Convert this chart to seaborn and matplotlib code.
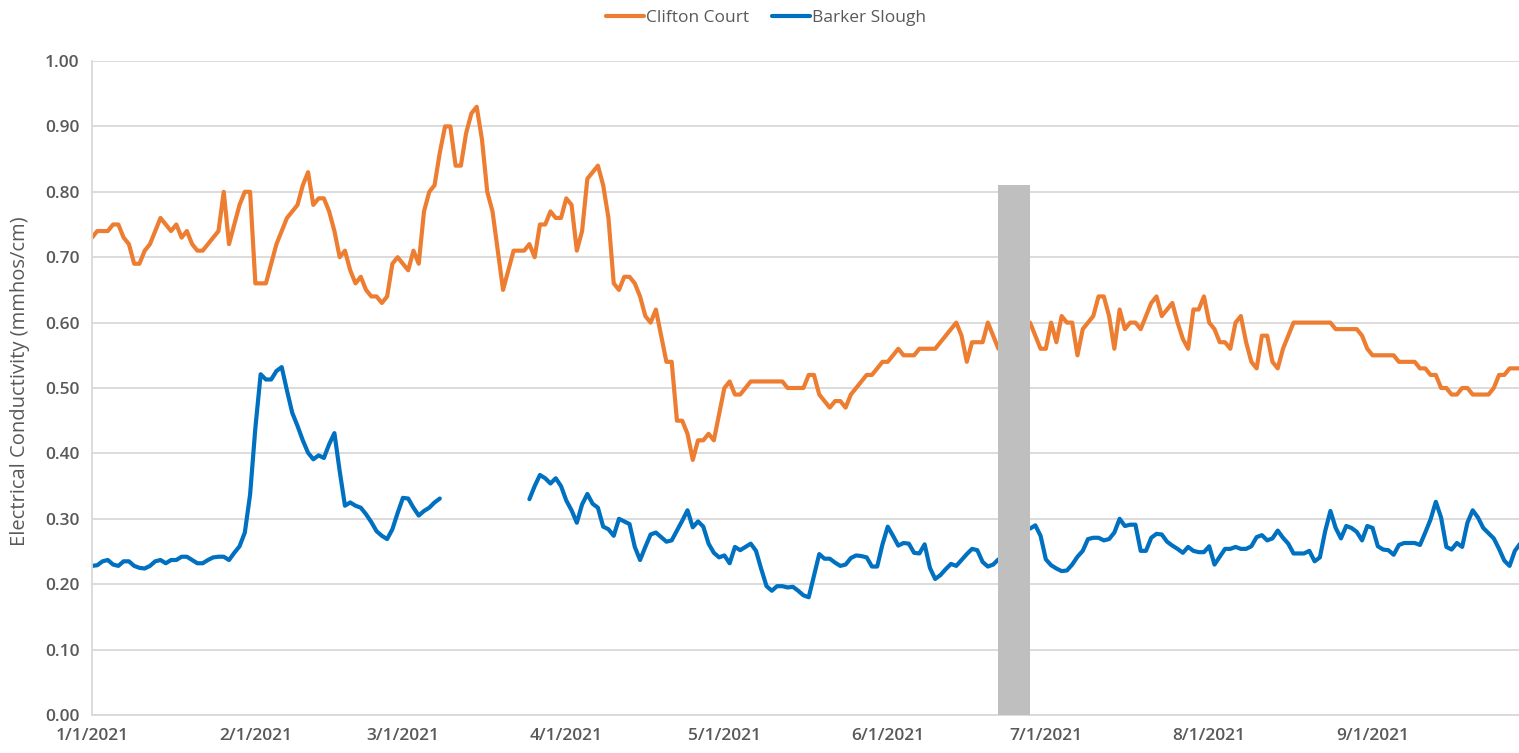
import numpy as np
import pandas as pd
import matplotlib
matplotlib.use("Agg")
import matplotlib.pyplot as plt
from matplotlib.lines import Line2D
import seaborn as sns

nan = np.nan

# daily EC readings starting 1/1/2021 (mmhos/cm); nan = no data
START = "2021-01-01"

clifton_court = [
    0.73, 0.74, 0.74, 0.74, 0.75, 0.75, 0.73, 0.72, 0.69, 0.69,
    0.71, 0.72, 0.74, 0.76, 0.75, 0.74, 0.75, 0.73, 0.74, 0.72,
    0.71, 0.71, 0.72, 0.73, 0.74, 0.80, 0.72, 0.75, 0.78, 0.80,
    0.80, 0.66, 0.66, 0.66, 0.69, 0.72, 0.74, 0.76, 0.77, 0.78,
    0.81, 0.83, 0.78, 0.79, 0.79, 0.77, 0.74, 0.70, 0.71, 0.68,
    0.66, 0.67, 0.65, 0.64, 0.64, 0.63, 0.64, 0.69, 0.70, 0.69,
    0.68, 0.71, 0.69, 0.77, 0.80, 0.81, 0.86, 0.90, 0.90, 0.84,
    0.84, 0.89, 0.92, 0.93, 0.88, 0.80, 0.77, 0.71, 0.65, 0.68,
    0.71, 0.71, 0.71, 0.72, 0.70, 0.75, 0.75, 0.77, 0.76, 0.76,
    0.79, 0.78, 0.71, 0.74, 0.82, 0.83, 0.84, 0.81, 0.76, 0.66,
    0.65, 0.67, 0.67, 0.66, 0.64, 0.61, 0.60, 0.62, 0.58, 0.54,
    0.54, 0.45, 0.45, 0.43, 0.39, 0.42, 0.42, 0.43, 0.42, 0.46,
    0.50, 0.51, 0.49, 0.49, 0.50, 0.51, 0.51, 0.51, 0.51, 0.51,
    0.51, 0.51, 0.50, 0.50, 0.50, 0.50, 0.52, 0.52, 0.49, 0.48,
    0.47, 0.48, 0.48, 0.47, 0.49, 0.50, 0.51, 0.52, 0.52, 0.53,
    0.54, 0.54, 0.55, 0.56, 0.55, 0.55, 0.55, 0.56, 0.56, 0.56,
    0.56, 0.57, 0.58, 0.59, 0.60, 0.58, 0.54, 0.57, 0.57, 0.57,
    0.60, 0.58, 0.56, nan, nan, nan, nan, nan, 0.60, 0.58,
    0.56, 0.56, 0.60, 0.57, 0.61, 0.60, 0.60, 0.55, 0.59, 0.60,
    0.61, 0.64, 0.64, 0.61, 0.56, 0.62, 0.59, 0.60, 0.60, 0.59,
    0.61, 0.63, 0.64, 0.61, 0.62, 0.63, 0.60, 0.575, 0.56, 0.62,
    0.62, 0.64, 0.60, 0.59, 0.57, 0.57, 0.56, 0.60, 0.61, 0.57,
    0.54, 0.53, 0.58, 0.58, 0.54, 0.53, 0.56, 0.58, 0.60, 0.60,
    0.60, 0.60, 0.60, 0.60, 0.60, 0.60, 0.59, 0.59, 0.59, 0.59,
    0.59, 0.58, 0.56, 0.55, 0.55, 0.55, 0.55, 0.55, 0.54, 0.54,
    0.54, 0.54, 0.53, 0.53, 0.52, 0.52, 0.50, 0.50, 0.49, 0.49,
    0.50, 0.50, 0.49, 0.49, 0.49, 0.49, 0.50, 0.52, 0.52, 0.53,
    0.53, 0.53,
]

barker_slough = [
    0.228, 0.229, 0.235, 0.237, 0.230, 0.228, 0.235, 0.235, 0.228, 0.225,
    0.224, 0.228, 0.235, 0.237, 0.232, 0.237, 0.237, 0.242, 0.242, 0.237,
    0.232, 0.232, 0.237, 0.241, 0.242, 0.242, 0.237, 0.248, 0.258, 0.279,
    0.337, 0.439, 0.521, 0.513, 0.513, 0.526, 0.532, 0.496, 0.462, 0.442,
    0.420, 0.401, 0.391, 0.397, 0.393, 0.414, 0.431, 0.373, 0.320, 0.325,
    0.320, 0.317, 0.307, 0.295, 0.281, 0.274, 0.269, 0.284, 0.309, 0.332,
    0.331, 0.317, 0.305, 0.312, 0.317, 0.325, 0.331, nan, nan, nan,
    nan, nan, nan, nan, nan, nan, nan, nan, nan, nan,
    nan, nan, nan, 0.330, 0.350, 0.367, 0.362, 0.354, 0.362, 0.350,
    0.328, 0.313, 0.294, 0.322, 0.338, 0.323, 0.317, 0.288, 0.284, 0.274,
    0.300, 0.296, 0.292, 0.257, 0.237, 0.257, 0.276, 0.279, 0.272, 0.265,
    0.267, 0.282, 0.297, 0.313, 0.287, 0.296, 0.288, 0.262, 0.248, 0.241,
    0.244, 0.232, 0.257, 0.252, 0.257, 0.262, 0.251, 0.223, 0.197, 0.190,
    0.197, 0.197, 0.195, 0.196, 0.190, 0.183, 0.180, 0.213, 0.246, 0.239,
    0.239, 0.233, 0.228, 0.230, 0.240, 0.244, 0.243, 0.241, 0.227, 0.227,
    0.261, 0.288, 0.274, 0.259, 0.263, 0.262, 0.248, 0.247, 0.261, 0.225,
    0.208, 0.214, 0.223, 0.231, 0.228, 0.237, 0.246, 0.254, 0.252, 0.234,
    0.227, 0.230, 0.238, nan, nan, nan, nan, nan, 0.285, 0.290,
    0.274, 0.238, 0.229, 0.224, 0.220, 0.221, 0.230, 0.242, 0.251, 0.269,
    0.271, 0.271, 0.267, 0.269, 0.279, 0.300, 0.289, 0.291, 0.291, 0.251,
    0.251, 0.271, 0.277, 0.276, 0.265, 0.259, 0.254, 0.248, 0.257, 0.251,
    0.249, 0.249, 0.258, 0.230, 0.242, 0.254, 0.254, 0.257, 0.254, 0.254,
    0.258, 0.272, 0.275, 0.267, 0.270, 0.282, 0.271, 0.262, 0.247, 0.247,
    0.247, 0.251, 0.235, 0.241, 0.281, 0.312, 0.286, 0.270, 0.289, 0.286,
    0.280, 0.267, 0.289, 0.286, 0.258, 0.253, 0.252, 0.245, 0.260, 0.263,
    0.263, 0.263, 0.260, 0.279, 0.299, 0.326, 0.302, 0.257, 0.253, 0.263,
    0.257, 0.294, 0.313, 0.302, 0.286, 0.278, 0.270, 0.254, 0.236, 0.228,
    0.251, 0.262,
]

series_names = ["Clifton Court", "Barker Slough"]
series_colors = ["#ED7D31", "#0070C0"]

month_ticks = ["2021-01-01", "2021-02-01", "2021-03-01", "2021-04-01", "2021-05-01",
               "2021-06-01", "2021-07-01", "2021-08-01", "2021-09-01"]
month_labels = ["1/1/2021", "2/1/2021", "3/1/2021", "4/1/2021", "5/1/2021",
                "6/1/2021", "7/1/2021", "8/1/2021", "9/1/2021"]
y_ticks = [0.0, 0.1, 0.2, 0.3, 0.4, 0.5, 0.6, 0.7, 0.8, 0.9, 1.0]

# gray marker column
bar_date = "2021-06-25"
bar_height = 0.81
bar_width_days = 6.1

X_END = "2021-09-30"

# ---- data frame (long, split into contiguous segments so gaps stay gaps)
dates = pd.date_range(START, periods=len(clifton_court), freq="D")
wide = pd.DataFrame({"date": dates,
                     series_names[0]: clifton_court,
                     series_names[1]: barker_slough})
df = wide.melt(id_vars="date", var_name="site", value_name="ec")
df["segment"] = df.groupby("site")["ec"].transform(lambda s: s.isna().cumsum())
df = df.dropna()

sns.set_theme(style="white")
plt.rcParams["font.family"] = ["Open Sans", "DejaVu Sans"]

W, H = 1519, 753
TEXT = "#595959"
fig = plt.figure(figsize=(W / 100, H / 100), dpi=100)
ax = fig.add_axes([92 / W, 38 / H, 1433.4 / W, 654 / H])

palette = dict(zip(series_names, series_colors))
sns.lineplot(data=df, x="date", y="ec", hue="site", units="segment",
             estimator=None, palette=palette, linewidth=3.0, legend=False,
             ax=ax, zorder=2, solid_joinstyle="round", solid_capstyle="round")

ax.bar(pd.Timestamp(bar_date), bar_height, width=bar_width_days,
       color="#BFBFBF", zorder=3, linewidth=0)

ax.set_xlim(pd.Timestamp(START), pd.Timestamp(X_END))
ax.set_ylim(0, 1.0)
ax.set_yticks(y_ticks)
ax.set_yticklabels([f"{v:.2f}" for v in y_ticks])
ax.set_xticks(pd.to_datetime(month_ticks))
ax.set_xticklabels(month_labels)

ax.grid(axis="y", color="#D9D9D9", linewidth=1.3, zorder=0)
ax.grid(axis="x", visible=False)
ax.set_axisbelow(True)
for side in ["top", "right"]:
    ax.spines[side].set_visible(False)
for side in ["left", "bottom"]:
    ax.spines[side].set_color("#D9D9D9")
    ax.spines[side].set_linewidth(1.3)

ax.tick_params(axis="x", length=4, width=1.2, color="#D9D9D9",
               labelsize=12.5, labelcolor=TEXT, pad=5)
ax.tick_params(axis="y", length=0, labelsize=12.5, labelcolor=TEXT, pad=9)
for lab in ax.get_xticklabels() + ax.get_yticklabels():
    lab.set_fontweight("semibold")

ax.set_xlabel("")
ax.set_ylabel("Electrical Conductivity (mmhos/cm)", fontsize=14.5, color=TEXT)
ax.yaxis.set_label_coords(-0.043, 0.51)

handles = [Line2D([0], [0], color=c, linewidth=3.0) for c in series_colors]
fig.legend(handles, series_names, loc="center", bbox_to_anchor=(766 / W, 1 - 18 / H),
           ncol=2, frameon=False, fontsize=12.5, labelcolor=TEXT,
           handlelength=2.2, handletextpad=0.1, columnspacing=1.3)

fig.savefig("out.png", dpi=100)
plt.close(fig)
